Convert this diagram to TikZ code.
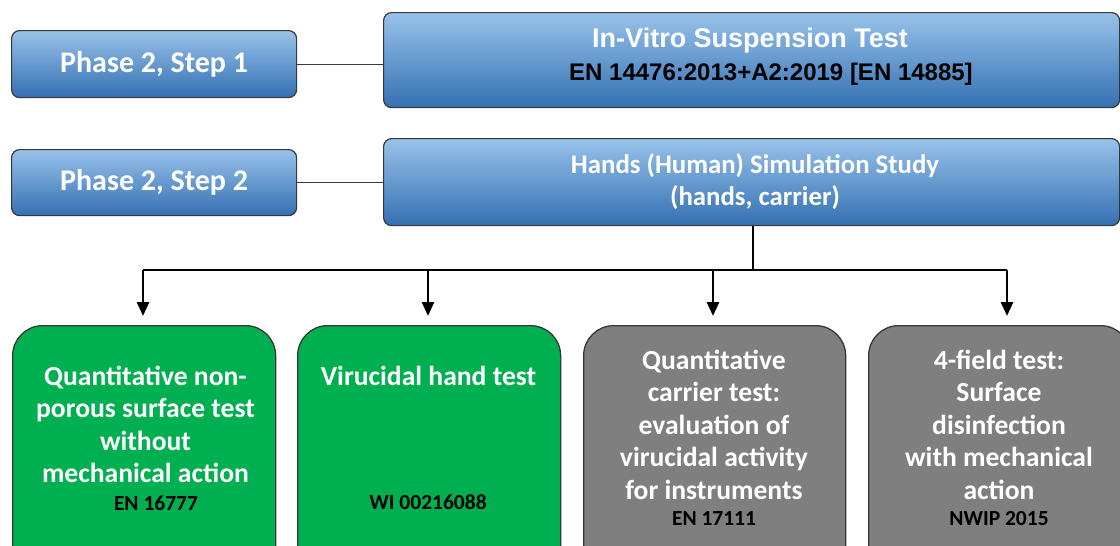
\documentclass[tikz,border=0pt]{standalone}
\usepackage{fontspec}
\setmainfont{Carlito}
\newfontfamily\arialfont{Liberation Sans}
\usetikzlibrary{arrows.meta}
\definecolor{bluetop}{RGB}{152,194,234}
\definecolor{bluebot}{RGB}{52,112,178}
\definecolor{edgegray}{RGB}{55,55,55}
\definecolor{boxgreen}{RGB}{0,176,80}
\definecolor{boxgray}{RGB}{127,127,127}
\tikzset{
  bluebox/.style={draw=edgegray, line width=1.2pt, rounded corners=8pt,
    top color=bluetop, bottom color=bluebot, anchor=north west,
    inner sep=0pt, text=white},
  greenbox/.style={draw=edgegray, line width=1.3pt, rounded corners=30pt,
    fill=boxgreen, anchor=north west, minimum width=263pt, minimum height=260pt},
  graybox/.style={draw=edgegray, line width=1.3pt, rounded corners=30pt,
    fill=boxgray, anchor=north west, minimum width=262pt, minimum height=260pt},
  phasetext/.style={font=\fontsize{30}{34}\bfseries},
  maintext/.style={text=white, align=center, font=\fontsize{27.6}{32.5}\selectfont\bfseries},
  codetext/.style={text=black, font=\fontsize{21.5}{25}\selectfont\bfseries},
  link/.style={draw=edgegray, line width=1.2pt},
  tree/.style={draw=black, line width=2.6pt},
  treearrow/.style={tree, -{Triangle[width=12pt,length=14pt]}, shorten >=9pt}
}
\begin{document}
\begin{tikzpicture}[x=1pt,y=-1pt]
\useasboundingbox (0,0) rectangle (1120,546);
\clip (0,0) rectangle (1120,546);
% left phase boxes
\node[bluebox, minimum width=285pt, minimum height=67pt, phasetext] (p1) at (11,30) {Phase 2, Step 1};
\node[bluebox, minimum width=285pt, minimum height=66pt, phasetext] (p2) at (11,149) {Phase 2, Step 2};
% right blue boxes
\node[bluebox, minimum width=736pt, minimum height=95pt] (iv) at (383,12) {};
\node[bluebox, minimum width=736pt, minimum height=87pt] (hs) at (383,138) {};
\node[text=white, font=\arialfont\fontsize{27}{30}\selectfont\bfseries] (ivt) at (750,41) {In-Vitro Suspension Test};
\node[text=black, font=\arialfont\fontsize{24}{28}\selectfont\bfseries] (ivc) at (771,74) {EN 14476:2013+A2:2019 [EN 14885]};
\node[text=white, align=center, font=\fontsize{26.8}{32}\selectfont\bfseries] (hst) at (755,182) {Hands (Human) Simulation Study\\(hands, carrier)};
% links
\draw[link] (p1.east) -- (p1.east -| iv.west);
\draw[link] (p2.east) -- (p2.east -| hs.west);
% bottom boxes
\node[greenbox] (g1) at (12,325) {};
\node[greenbox] (g2) at (297,325) {};
\node[graybox] (y1) at (583,325) {};
\node[graybox, minimum width=262pt] (y2) at (868,325) {};
% tree
\coordinate (j) at (753,270);
\coordinate (a1) at (143,270);
\coordinate (a2) at (428,270);
\coordinate (a3) at (713,270);
\coordinate (a4) at (1007,270);
\draw[tree] (hs.south -| j) -- (j);
\draw[tree] (a1) -- (a4);
\draw[treearrow] (a1) -- (a1 |- g1.north);
\draw[treearrow] (a2) -- (a2 |- g2.north);
\draw[treearrow] (a3) -- (a3 |- y1.north);
\draw[treearrow] (a4) -- (a4 |- y2.north);
% texts in bottom boxes
\node[maintext] (g1t) at (145.5,424.5) {Quantitative non-\\porous surface test\\without\\mechanical action};
\node[codetext] (g1c) at (156,503) {EN 16777};
\node[maintext] (g2t) at (428.5,376) {Virucidal hand test};
\node[codetext] (g2c) at (428,502) {WI 00216088};
\node[maintext] (y1t) at (714,424.5) {Quantitative\\carrier test:\\evaluation of\\virucidal activity\\for instruments};
\node[codetext] (y1c) at (714,519) {EN 17111};
\node[maintext] (y2t) at (999,424.5) {4-field test:\\Surface\\disinfection\\with mechanical\\action};
\node[codetext] (y2c) at (999,519) {NWIP 2015};
\end{tikzpicture}
\end{document}
